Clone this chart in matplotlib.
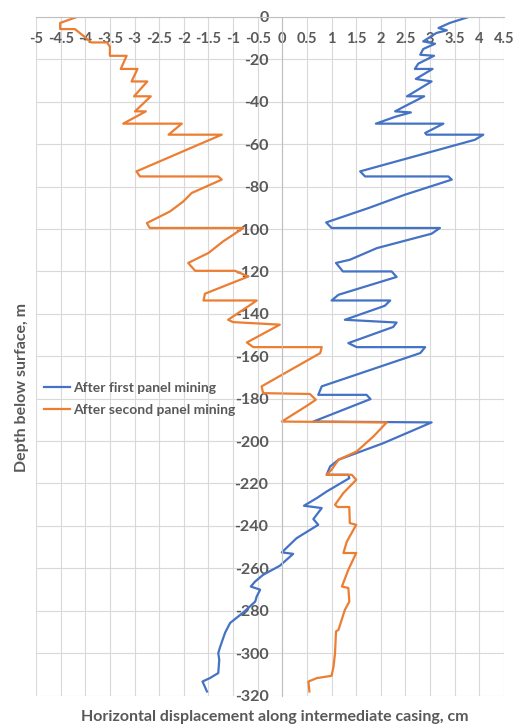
import numpy as np
import matplotlib
matplotlib.use("Agg")
import matplotlib.pyplot as plt

plt.rcParams['font.family'] = ['Lato', 'DejaVu Sans']
plt.rcParams['axes.unicode_minus'] = False

# displacement (cm) vs depth (m), after first panel mining
first_x = [3.78, 3.40, 3.17, 3.34, 3.13, 2.86, 3.10, 2.86, 2.80, 3.08, 2.76, 2.69, 3.05, 2.71,
           3.03, 2.66, 2.53, 2.88, 2.42, 2.29, 2.61, 2.30, 1.90, 3.27, 2.90, 2.93, 4.08, 3.91,
           1.58, 1.68, 3.37, 3.44, 2.49, 1.75, 0.89, 1.00, 3.20, 3.03, 1.92, 1.37, 1.09, 1.23,
           2.22, 2.32, 1.14, 1.00, 2.19, 2.08, 1.27, 2.32, 2.25, 1.34, 1.51, 2.90, 2.80, 0.80,
           0.73, 1.71, 1.79, 0.63, 3.03, 2.05, 1.14, 0.97, 0.90, 1.34, 1.36, 0.90, 0.70, 0.44,
           0.80, 0.63, 0.73, 0.29, -0.01, 0.22, -0.05, -0.39, -0.55, -0.64, -0.45, -0.52, -0.55,
           -0.79, -1.06, -1.16, -1.26, -1.30, -1.28, -1.30, -1.47, -1.62, -1.53]
first_depth = [0, -2.8, -5.2, -6.3, -7.5, -11.5, -12.6, -15.1, -17.8, -18.3, -22, -24.5, -24.5,
               -29.2, -30.4, -35.6, -37.4, -37.4, -42.9, -44.5, -45, -47, -50.3, -50.3, -54.7,
               -55.5, -55.5, -57.9, -72.8, -75.2, -75.2, -76.7, -83.8, -90.1, -96.9, -99.5, -99.5,
               -102.2, -109, -114.5, -116, -120, -120, -122.6, -131, -133.7, -133.7, -136.2,
               -142.8, -144.1, -146.2, -153.8, -155.7, -155.7, -158.5, -174.2, -178.2, -178.2,
               -180.2, -190.8, -191.2, -201, -208.8, -212, -215.9, -215.9, -217.5, -223.8, -226.9,
               -230.5, -231.6, -236.8, -239.5, -245.8, -252.5, -253.2, -258.8, -263.1, -266.2,
               -268.6, -270.1, -273.3, -275.7, -280.8, -285.8, -290.3, -296.9, -300, -303.2,
               -309.4, -311.8, -313.4, -318.1]

# displacement (cm) vs depth (m), after second panel mining
second_x = [-4.17, -4.51, -4.51, -4.21, -4.00, -3.88, -3.56, -3.50, -3.50, -3.16, -3.28, -2.94,
            -3.06, -2.74, -3.01, -2.67, -2.99, -2.77, -3.23, -2.04, -2.31, -1.23, -2.96, -2.89,
            -1.30, -1.23, -1.84, -2.01, -2.28, -2.75, -2.69, -0.79, -1.20, -1.50, -1.64, -1.91,
            -1.77, -0.96, -0.69, -1.57, -1.60, -0.52, -0.60, -1.10, -1.00, -0.05, -0.72, -0.59,
            0.80, 0.77, -0.42, -0.39, 0.56, 0.68, 0.53, -0.01, 2.12, 1.85, 1.51, 1.14, 1.00,
            0.90, 1.41, 1.50, 1.24, 1.07, 1.12, 1.36, 1.37, 1.50, 1.31, 1.24, 1.50, 1.34, 1.21,
            1.34, 1.36, 1.27, 1.14, 1.09, 1.07, 1.04, 1.00, 0.70, 0.53, 0.55]
second_depth = [0, -2.8, -5.7, -5.7, -9.6, -12, -12, -14, -18.3, -18.3, -24.5, -24.5, -30.4,
                -30.4, -37.4, -37.4, -44.5, -44.5, -50.3, -50.3, -55.5, -55.5, -72.8, -75.2,
                -75.2, -76.7, -83, -87, -91.7, -97.2, -99.5, -99.5, -105.8, -111.3, -112.9, -116,
                -119.7, -119.7, -122.4, -130.5, -133.7, -133.7, -135, -142.8, -143.9, -145.1,
                -153.5, -155.7, -155.7, -158.5, -174.2, -177.4, -177.8, -180.5, -182.9, -190.8,
                -191.2, -197.8, -204.9, -208.8, -213.5, -215.9, -215.9, -218.3, -224.5, -230,
                -231.1, -231.1, -238.7, -239.5, -247.4, -252.8, -252.8, -260.7, -268.6, -269.3,
                -275.7, -279.6, -289, -289.8, -300, -306.3, -310.7, -311.8, -313.4, -318.1]

x_ticks = np.arange(-5, 4.51, 0.5)
y_ticks = np.arange(-320, 1, 20)

gray = '#595959'

fig = plt.figure(figsize=(5.22, 7.28), dpi=100)
ax = fig.add_axes([36 / 522, 1 - 695.5 / 728, 468 / 522, 678.5 / 728])

ax.plot(first_x, first_depth, color='#4472C4', lw=1.6, label='After first panel mining')
ax.plot(second_x, second_depth, color='#ED7D31', lw=1.6, label='After second panel mining')

ax.set_xlim(-5, 4.5)
ax.set_ylim(-320, 0)
ax.set_xticks(x_ticks)
ax.set_xticklabels([f"{v:g}" for v in x_ticks])
ax.set_yticks(y_ticks)
ax.set_yticklabels([f"{v:g}" for v in y_ticks])

# axes cross at the origin, like a spreadsheet chart
ax.spines['bottom'].set_position(('data', 0))
ax.spines['left'].set_position(('data', 0))
ax.spines['top'].set_visible(False)
ax.spines['right'].set_visible(False)
for s in ('bottom', 'left'):
    ax.spines[s].set_color('#bfbfbf')
    ax.spines[s].set_linewidth(0.8)

ax.grid(True, color='#d9d9d9', lw=0.8)
ax.set_axisbelow(True)
ax.tick_params(axis='both', length=0, labelcolor=gray)
ax.tick_params(axis='x', pad=11, labelsize=10.5)
ax.tick_params(axis='y', pad=10, labelsize=11.5)
for lab in ax.get_xticklabels() + ax.get_yticklabels():
    lab.set_fontweight('bold')

fig.text(0.5 * (36 + 504) / 522 + 0.01, 1 - 717 / 728,
         'Horizontal displacement along intermediate casing, cm',
         ha='center', va='center', fontsize=11.5, fontweight='bold', color=gray)
fig.text(22 / 522, 1 - 387 / 728, 'Depth below surface, m', rotation=90,
         ha='center', va='center', fontsize=11.5, fontweight='bold', color=gray)

leg = ax.legend(loc='center left', bbox_to_anchor=(0.017, 0.437), frameon=False,
                handlelength=1.9, handletextpad=0.2, labelspacing=0.75,
                borderpad=0, borderaxespad=0, fontsize=10)
for t in leg.get_texts():
    t.set_color(gray)
    t.set_fontweight('bold')

fig.savefig('out.png', dpi=100)
